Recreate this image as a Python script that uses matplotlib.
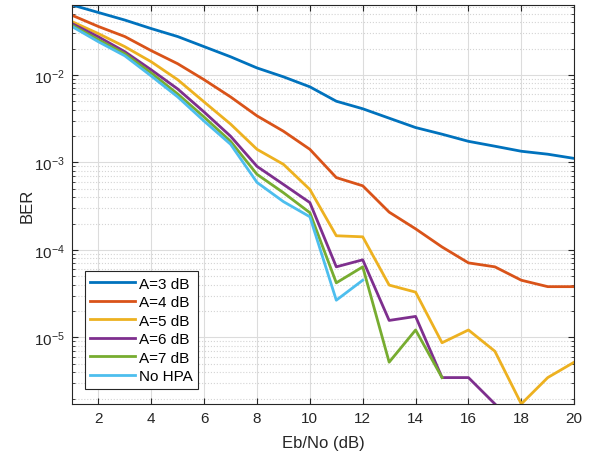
import numpy as np
from matplotlib import pyplot as plt, ticker

plt.rcParams['font.family'] = ['Liberation Sans', 'DejaVu Sans']
plt.rcParams['mathtext.fontset'] = 'custom'
plt.rcParams['mathtext.rm'] = 'Liberation Sans'

ebno = np.arange(1, 21)

# smallest BER step (a single bit error)
u = 1.736e-6

ber_a3 = [0.063, 0.0516, 0.0423, 0.0338, 0.0274, 0.021, 0.0161, 0.012, 0.0095, 0.0073,
          0.0050, 0.0041, 0.0032, 0.0025, 0.0021, 0.00174, 0.00153, 0.00134, 0.00124, 0.00111]
ber_a4 = [0.048, 0.0357, 0.0274, 0.0189, 0.0134, 0.0088, 0.0056, 0.0034, 0.00227, 0.00141,
          6.7e-4, 5.4e-4, 2.7e-4, 1.74e-4, 1.08e-4, 7.1e-5, 6.4e-5, 4.5e-5, 3.8e-5, 3.8e-5]
ber_a5 = [0.0406, 0.0296, 0.021, 0.0141, 0.0088, 0.0049, 0.00274, 0.00141, 9.5e-4, 4.9e-4,
          1.45e-4, 1.41e-4, 3.96e-5, 3.29e-5, 5 * u, 7 * u, 4 * u, 1 * u, 2 * u, 3 * u]
ber_a6 = [0.0386, 0.0272, 0.0184, 0.0114, 0.0069, 0.00376, 0.00199, 9.0e-4, 5.6e-4, 3.47e-4,
          6.4e-5, 7.7e-5, 9 * u, 10 * u, 2 * u, 2 * u, 1 * u, 0, 0, 0]
ber_a7 = [0.0369, 0.0252, 0.0174, 0.0105, 0.00605, 0.00329, 0.00174, 7.3e-4, 4.5e-4, 2.66e-4,
          4.2e-5, 6.4e-5, 3 * u, 7 * u, 2 * u, 0, 0, 0, 0, 0]
ber_nohpa = [0.0357, 0.0239, 0.0165, 0.0097, 0.0056, 0.00296, 0.00161, 5.9e-4, 3.56e-4, 2.39e-4,
             2.66e-5, 4.5e-5, 0, 0, 0, 0, 0, 0, 0, 0]

series = [ber_a3, ber_a4, ber_a5, ber_a6, ber_a7, ber_nohpa]
labels = ['A=3 dB', 'A=4 dB', 'A=5 dB', 'A=6 dB', 'A=7 dB', 'No HPA']
colors = ['#0072BD', '#D95319', '#EDB120', '#7E2F8E', '#77AC30', '#4DBEEE']

fig = plt.figure(figsize=(5.95, 4.56), dpi=100)
ax = fig.add_axes([0.121, 0.112, 0.844, 0.875])

for ber, lab, c in zip(series, labels, colors):
    y = np.array(ber, dtype=float)
    y[y == 0] = np.nan   # zero errors -> nothing to draw on a log axis
    ax.semilogy(ebno, y, color=c, linewidth=2, label=lab)

ax.set_xlim(1, 20)
ax.set_ylim(u, max(ber_a3))
ax.set_xticks(np.arange(2, 21, 2))
ax.yaxis.set_major_locator(ticker.LogLocator(base=10, numticks=10))
ax.yaxis.set_minor_locator(ticker.LogLocator(base=10, subs=np.arange(2, 10), numticks=20))
ax.yaxis.set_minor_formatter(ticker.NullFormatter())

ax.grid(True, which='major', color='#dcdcdc', linewidth=0.8)
ax.grid(True, which='minor', axis='y', color='#d4d4d4', linestyle=':', linewidth=0.8)
ax.set_axisbelow(True)

for sp in ax.spines.values():
    sp.set_color('#262626')
    sp.set_linewidth(0.8)
ax.tick_params(which='both', direction='in', top=True, right=True, colors='#262626',
               labelsize=11, labelcolor='#262626')
ax.tick_params(which='major', length=4, pad=5)
ax.tick_params(which='minor', length=2)

ax.set_xlabel('Eb/No (dB)', fontsize=12, color='#262626', labelpad=7)
ax.set_ylabel('BER', fontsize=12, color='#262626', labelpad=0)

leg = ax.legend(loc='lower left', bbox_to_anchor=(0.026, 0.038), borderaxespad=0,
                fontsize=11, fancybox=False, framealpha=1, edgecolor='#262626',
                handlelength=2.9, labelspacing=0.3, borderpad=0.35, handletextpad=0.3)
leg.get_frame().set_linewidth(0.8)

plt.savefig('out.png', dpi=100)
